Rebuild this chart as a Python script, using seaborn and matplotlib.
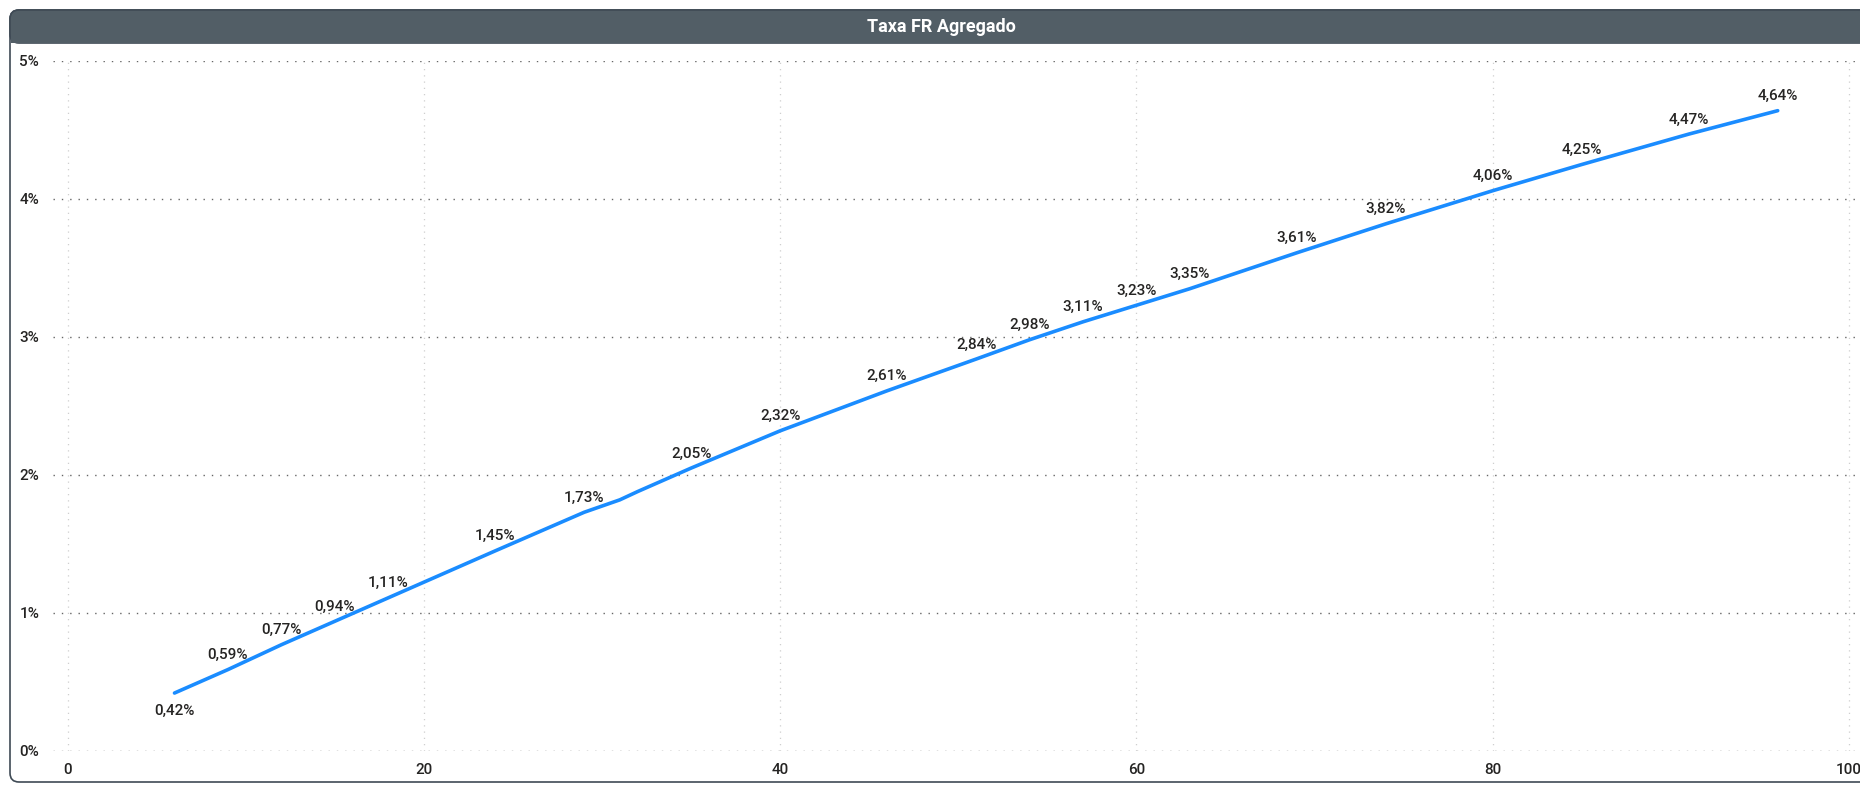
import matplotlib
matplotlib.use("Agg")
import matplotlib.pyplot as plt
import seaborn as sns
import numpy as np
import pandas as pd
from matplotlib.patches import FancyBboxPatch, Rectangle
from matplotlib.ticker import FuncFormatter

# ---- data ----
x_values = [6, 9, 12, 15, 18, 24, 29, 31, 32, 35, 40, 46, 51, 54, 57, 60, 63, 69, 74, 80, 85, 91, 96]
rate_pct = [0.42, 0.59, 0.77, 0.94, 1.11, 1.45, 1.73, 1.82, 1.88, 2.05, 2.32, 2.61, 2.84, 2.98,
            3.11, 3.23, 3.35, 3.61, 3.82, 4.06, 4.25, 4.47, 4.64]
label_shown = [True, True, True, True, True, True, True, False, False, True, True, True, True, True,
               True, True, True, True, True, True, True, True, True]
x_ticks = [0, 20, 40, 60, 80, 100]
y_ticks = [0, 1, 2, 3, 4, 5]
title = "Taxa FR Agregado"

df = pd.DataFrame({"x": x_values, "rate": rate_pct})

W, H, DPI = 1860, 786, 100
sns.set_style("white")
plt.rcParams["font.family"] = ["Roboto", "DejaVu Sans"]

fig = plt.figure(figsize=(W / DPI, H / DPI), dpi=DPI)
fig.patch.set_facecolor("white")


def px(x, y):
    """pixel (top-left origin) -> inches for dpi_scale_trans"""
    return x / DPI, (H - y) / DPI


# frame
fx0, fy0, fx1, fy1 = 10, 10, 1880, 782
frame = FancyBboxPatch(px(fx0, fy1), (fx1 - fx0) / DPI, (fy1 - fy0) / DPI,
                       boxstyle="round,pad=0,rounding_size=0.09",
                       transform=fig.dpi_scale_trans, facecolor="white",
                       edgecolor="#3f4a55", linewidth=1.2, zorder=-3)
fig.patches.append(frame)
# title bar
tb_bottom = 43
bar = FancyBboxPatch(px(fx0, tb_bottom), (fx1 - fx0) / DPI, (tb_bottom - fy0) / DPI,
                     boxstyle="round,pad=0,rounding_size=0.09",
                     transform=fig.dpi_scale_trans, facecolor="#525e66",
                     edgecolor="#3f4a55", linewidth=1.2, zorder=-2)
fig.patches.append(bar)
sq = Rectangle(px(fx0 + 0.6, tb_bottom), (fx1 - fx0) / DPI, 0.15,
               transform=fig.dpi_scale_trans, facecolor="#525e66", edgecolor="none", zorder=-1)
fig.patches.append(sq)
fig.text(941 / W, 1 - 27 / H, title, color="white", fontsize=13, fontweight="bold",
         ha="center", va="center", zorder=6)

# axes
ax_l, ax_r, ax_t, ax_b = 53, 1860, 61, 751
ax = fig.add_axes([ax_l / W, 1 - ax_b / H, (ax_r - ax_l) / W, (ax_b - ax_t) / H])
ax.set_zorder(5)
ax.patch.set_alpha(0)
sns.lineplot(data=df, x="x", y="rate", ax=ax, color="#1a8cff", linewidth=2.6, zorder=3)

ax.set_xlim(-0.82, 100.62)
ax.set_ylim(0, 5)
ax.set_xticks(x_ticks)
ax.set_yticks(y_ticks)
ax.yaxis.set_major_formatter(FuncFormatter(lambda v, p: f"{v:.0f}%"))
for s in ax.spines.values():
    s.set_visible(False)
ax.tick_params(axis="both", length=0, labelsize=11, labelcolor="#252423")
for lab in ax.get_xticklabels() + ax.get_yticklabels():
    lab.set_fontweight("medium")
ax.tick_params(axis="y", pad=10)
ax.tick_params(axis="x", pad=9)
ax.set_xlabel("")
ax.set_ylabel("")
ax.yaxis.grid(True, color="#666666", linestyle=(0, (1, 5)), linewidth=1.0)
ax.xaxis.grid(True, color="#cfcfcf", linestyle=(0, (1, 4)), linewidth=0.9)
ax.set_axisbelow(True)

for i, (xv, yv, show) in enumerate(zip(x_values, rate_pct, label_shown)):
    if not show:
        continue
    txt = f"{yv:.2f}%".replace(".", ",")
    dy = -13 if i == 0 else 10.5
    ax.annotate(txt, (xv, yv), xytext=(0, dy), textcoords="offset points",
                ha="center", va="center", fontsize=11, fontweight="medium",
                color="#252423", zorder=4)

fig.savefig("out.png", dpi=DPI)
